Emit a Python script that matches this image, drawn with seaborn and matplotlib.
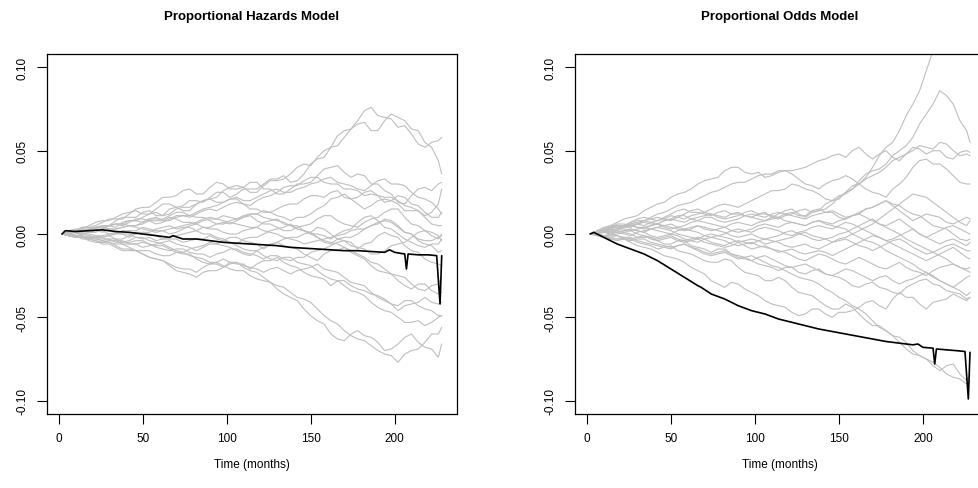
import numpy as np
import pandas as pd
import matplotlib
matplotlib.use("Agg")
import matplotlib.pyplot as plt
import seaborn as sns

# time grids of the simulated paths (months)
t_paths = [2, 10, 18, 26, 34, 42, 50, 58, 66, 74, 82, 90, 98, 106, 114, 122,
           130, 138, 146, 154, 162, 170, 178, 186, 194, 202, 210, 218, 226, 228]
t_mids = [6, 14, 22, 30, 38, 46, 54, 62, 70, 78, 86, 94, 102, 110, 118, 126,
          134, 142, 150, 158, 166, 174, 182, 190, 198, 206, 214, 222]

# simulated processes, proportional hazards (x 1000)
hazard_paths = [
    [0, 3, 5, 8, 10, 13, 12, 15, 18, 17, 20, 22, 25, 24, 27, 30, 33, 31, 36, 45, 52, 62, 68, 76, 70, 64, 60, 52, 56, 58],
    [0, 2, 4, 7, 9, 12, 16, 19, 22, 26, 24, 28, 30, 27, 25, 29, 32, 36, 42, 46, 52, 58, 66, 62, 68, 70, 63, 55, 44, 36],
    [0, -1, 2, 5, 8, 10, 13, 11, 15, 14, 18, 21, 26, 29, 31, 27, 24, 27, 30, 35, 40, 37, 36, 30, 26, 19, 23, 28, 30, 31],
    [0, 1, 3, 5, 4, 8, 10, 13, 12, 16, 18, 21, 19, 21, 17, 22, 25, 29, 32, 34, 30, 27, 26, 24, 19, 18, 14, 11, 18, 27],
    [0, 2, 1, 3, 6, 7, 9, 6, 9, 11, 12, 15, 16, 19, 15, 13, 15, 18, 21, 23, 25, 22, 18, 17, 21, 23, 18, 13, 10, 13],
    [0, 1, 3, 1, 3, 5, 6, 8, 10, 7, 6, 9, 11, 9, 12, 14, 11, 8, 10, 15, 21, 24, 22, 26, 22, 20, 16, 10, 5, 5],
    [0, -1, 1, 2, 0, -2, 1, 3, 5, 4, 2, 4, 7, 8, 11, 6, 4, 2, 5, 9, 11, 6, 4, 9, 13, 15, 6, 2, -3, 0],
    [0, 1, -1, -2, 0, 2, 4, 2, 0, 3, 6, 3, 1, 0, 3, 7, 9, 5, 2, 0, -3, 2, 7, 11, 4, 0, -5, -8, -6, -3],
    [0, -2, -3, -1, 1, 0, -3, -4, -2, 0, 2, 0, -3, -6, -2, 0, 3, 6, 2, -2, -6, -2, 0, 5, 9, 5, 0, -6, -11, -10],
    [0, -1, -3, -5, -4, -6, -8, -6, -4, -7, -10, -6, -4, -2, -5, -9, -5, -2, 0, 4, 0, -4, -9, -5, 1, -2, -10, -15, -18, -19],
    [0, -2, -1, -3, -5, -4, -2, -5, -8, -11, -8, -5, -7, -10, -13, -8, -5, -8, -12, -16, -10, -8, -13, -19, -23, -28, -33, -30, -36, -35],
    [0, -1, -3, -6, -8, -10, -12, -15, -18, -21, -23, -18, -15, -18, -21, -16, -14, -19, -23, -26, -31, -28, -33, -36, -39, -43, -40, -45, -49, -49],
    [0, -2, -4, -5, -7, -9, -12, -15, -19, -23, -26, -22, -20, -17, -22, -26, -31, -35, -39, -45, -52, -58, -63, -67, -72, -77, -70, -65, -60, -56],
    [0, -1, -2, -4, -6, -8, -10, -12, -13, -11, -14, -17, -19, -22, -25, -28, -33, -38, -45, -52, -60, -64, -58, -62, -70, -66, -60, -68, -74, -66],
    [0, 1, 0, -2, -3, -1, 1, -1, -3, -5, -3, -1, -4, -7, -10, -13, -16, -14, -18, -22, -27, -31, -35, -41, -46, -50, -53, -55, -50, -49],
    [0, 0, 2, 4, 3, 5, 7, 9, 11, 13, 10, 8, 6, 9, 12, 10, 8, 5, 2, -2, -5, -8, -12, -17, -21, -25, -30, -34, -30, -26],
    [0, 1, 3, 4, 6, 5, 3, 1, 3, 5, 7, 10, 8, 6, 4, 2, 0, -3, -6, -4, -2, 0, 3, 5, 8, 4, 0, -4, -2, -1],
    [0, -1, -3, -2, -4, -6, -5, -8, -10, -9, -12, -14, -11, -9, -12, -15, -13, -16, -14, -10, -7, -4, -8, -12, -10, -6, -2, 2, -1, -4],
    [0, 2, 4, 3, 6, 8, 7, 10, 8, 11, 13, 16, 19, 22, 20, 24, 27, 25, 28, 31, 34, 30, 27, 29, 33, 30, 25, 21, 15, 12],
    [0, -1, -2, -4, -3, -5, -4, -7, -9, -12, -15, -18, -20, -17, -20, -23, -20, -24, -21, -18, -22, -26, -30, -35, -40, -46, -42, -38, -42, -41],
]
hazard_mids = [
    [2, 3, 7, 8, 12, 14, 12, 18, 16, 20, 19, 25, 22, 27, 27, 33, 35, 32, 42, 46, 59, 63, 74, 71, 69, 65, 54, 55],
    [0, 4, 5, 9, 9, 15, 16, 22, 23, 27, 24, 31, 27, 28, 25, 32, 33, 40, 41, 50, 53, 63, 67, 62, 72, 68, 62, 52],
    [1, -1, 4, 5, 10, 10, 14, 11, 16, 14, 20, 22, 28, 28, 31, 27, 24, 30, 31, 39, 41, 34, 35, 30, 24, 18, 27, 26],
    [0, 3, 3, 5, 7, 8, 12, 11, 15, 16, 20, 19, 21, 18, 20, 23, 28, 29, 34, 31, 30, 27, 23, 23, 20, 14, 14, 13],
    [1, 2, 1, 5, 5, 9, 8, 7, 11, 10, 14, 14, 18, 18, 15, 13, 17, 18, 23, 22, 26, 21, 15, 20, 20, 22, 17, 10],
    [1, 1, 3, 3, 4, 5, 8, 8, 9, 7, 8, 9, 10, 11, 12, 13, 10, 10, 12, 17, 22, 21, 25, 23, 22, 17, 14, 6],
    [0, 0, 2, 0, 0, 0, 1, 4, 3, 4, 4, 6, 6, 10, 8, 6, 2, 4, 6, 11, 8, 5, 7, 10, 15, 10, 5, -1],
    [1, 0, -2, -1, 2, 2, 3, 2, 1, 5, 4, 3, 0, 2, 4, 8, 6, 5, 0, -1, 0, 3, 10, 8, 3, -3, -7, -6],
    [-1, -2, -1, 0, 0, -2, -2, -3, -1, 1, 0, -2, -5, -3, -2, 2, 4, 3, 0, -5, -3, -2, 3, 6, 8, 1, -4, -7],
    [-1, -1, -4, -4, -6, -6, -7, -5, -6, -8, -8, -6, -2, -4, -6, -6, -3, -2, 1, 3, -3, -5, -6, -1, -1, -7, -11, -17],
    [-1, -2, -3, -3, -5, -2, -4, -6, -10, -9, -7, -6, -8, -12, -10, -7, -7, -9, -14, -12, -10, -11, -15, -22, -24, -31, -30, -34],
    [0, -3, -4, -6, -10, -10, -14, -16, -20, -21, -20, -17, -17, -18, -18, -16, -17, -20, -25, -27, -28, -31, -34, -37, -42, -40, -43, -46],
    [-1, -2, -5, -5, -9, -10, -14, -16, -22, -24, -23, -22, -17, -20, -23, -29, -32, -38, -41, -49, -54, -61, -64, -70, -73, -72, -69, -60],
    [-1, -2, -2, -5, -6, -10, -10, -13, -11, -13, -15, -17, -21, -22, -27, -29, -36, -40, -49, -54, -63, -60, -61, -65, -69, -62, -65, -69],
    [1, 0, -1, -1, -3, 1, 0, -3, -3, -4, -3, -3, -5, -9, -10, -15, -14, -17, -19, -25, -28, -34, -37, -44, -47, -53, -52, -53],
    [-1, 1, 4, 3, 4, 5, 9, 9, 13, 11, 10, 6, 8, 10, 12, 9, 7, 3, 1, -4, -6, -10, -14, -18, -24, -26, -33, -31],
    [1, 2, 4, 5, 6, 4, 2, 2, 4, 6, 9, 9, 7, 5, 4, 1, -2, -4, -5, -3, -1, 2, 3, 7, 7, 1, -3, -4],
    [0, -2, -2, -4, -4, -6, -6, -9, -9, -11, -12, -12, -9, -11, -13, -13, -15, -14, -11, -9, -5, -7, -9, -12, -7, -5, 1, 1],
    [1, 4, 3, 5, 6, 8, 9, 8, 10, 11, 15, 17, 21, 20, 22, 26, 25, 27, 30, 33, 31, 29, 26, 32, 30, 29, 22, 19],
    [0, -2, -3, -3, -5, -4, -6, -7, -11, -12, -17, -18, -18, -19, -21, -21, -22, -22, -20, -21, -23, -29, -31, -38, -42, -43, -41, -41],
]

# simulated processes, proportional odds (x 1000)
odds_paths = [
    [0, 2, 5, 7, 10, 8, 12, 15, 13, 11, 14, 12, 10, 13, 9, 12, 15, 14, 20, 25, 30, 40, 52, 62, 78, 98, 120, 135, 150, 150],
    [0, 3, 6, 5, 8, 10, 8, 12, 15, 12, 10, 13, 10, 8, 12, 15, 10, 14, 18, 25, 32, 38, 42, 50, 58, 72, 86, 78, 62, 55],
    [0, 4, 7, 10, 14, 18, 22, 25, 30, 33, 38, 40, 36, 34, 37, 38, 40, 44, 47, 46, 52, 45, 50, 44, 50, 52, 55, 50, 48, 47],
    [0, 3, 5, 7, 8, 12, 15, 18, 21, 25, 28, 31, 33, 36, 38, 36, 30, 27, 32, 35, 30, 25, 22, 30, 40, 45, 42, 35, 30, 30],
    [0, 2, 4, 6, 5, 8, 11, 9, 12, 15, 18, 16, 20, 24, 26, 30, 27, 24, 20, 24, 30, 35, 40, 46, 52, 48, 50, 45, 50, 49],
    [0, 2, 5, 4, 7, 6, 9, 11, 8, 10, 7, 9, 12, 10, 13, 11, 9, 12, 14, 10, 13, 16, 20, 14, 8, 12, 10, 6, 10, 9],
    [0, 3, 2, 5, 4, 6, 3, 5, 8, 6, 4, 7, 5, 8, 10, 7, 5, 8, 6, 9, 12, 8, 5, 9, 3, -2, 2, 5, 1, 0],
    [0, 1, 3, 2, 4, 2, 0, 3, 1, -2, 0, 3, 1, 4, 2, -1, 2, 5, 3, 7, 4, 0, -4, -1, 3, -2, -6, -3, -7, -5],
    [0, 2, 1, -1, 2, 4, 2, -1, -3, 0, -2, -5, -3, -6, -4, -2, 1, -2, -5, -3, -7, -10, -6, -3, -8, -12, -9, -6, -10, -10],
    [0, -1, 1, 3, 1, -2, 0, -3, -5, -2, -4, -7, -5, -8, -11, -9, -12, -10, -13, -9, -5, -1, -4, -8, -12, -16, -12, -8, -14, -15],
    [0, 1, -1, -3, -1, -4, -2, -5, -3, -6, -8, -5, -9, -7, -10, -13, -16, -12, -15, -18, -14, -18, -21, -17, -22, -25, -20, -18, -21, -20],
    [0, -2, -1, -4, -3, -6, -8, -6, -9, -12, -10, -14, -16, -13, -17, -20, -18, -22, -25, -21, -24, -28, -25, -30, -27, -23, -28, -32, -26, -25],
    [0, -2, -4, -3, -6, -9, -7, -11, -14, -17, -15, -20, -24, -28, -26, -32, -36, -40, -45, -42, -48, -55, -58, -62, -70, -75, -80, -86, -90, -88],
    [0, -1, -3, -5, -8, -11, -14, -17, -22, -28, -32, -30, -35, -40, -43, -47, -48, -45, -50, -47, -44, -40, -45, -35, -38, -45, -40, -36, -40, -38],
    [0, 1, 2, 0, -2, -4, -6, -4, -8, -11, -9, -13, -16, -19, -22, -20, -24, -21, -25, -28, -32, -29, -33, -36, -30, -27, -31, -35, -39, -38],
    [0, 2, 4, 6, 8, 6, 9, 7, 10, 12, 9, 11, 14, 12, 10, 13, 11, 15, 13, 9, 12, 16, 20, 17, 12, 8, 4, 0, -4, -3],
    [0, 1, 3, 5, 3, 6, 4, 2, 5, 3, 1, -2, 0, -3, -1, 2, -1, -4, -2, 1, 5, 9, 4, 0, -5, -9, -13, -18, -22, -23],
    [0, -1, 0, 2, -1, -3, -1, -4, -2, -5, -7, -4, -6, -3, -5, -8, -6, -9, -5, -2, 2, 6, 12, 18, 24, 22, 16, 10, 5, 8],
    [0, 2, 1, 3, 1, 4, 6, 3, 5, 2, 4, 1, 3, 6, 4, 7, 5, 8, 5, 3, -2, -5, -10, -14, -18, -23, -28, -32, -37, -35],
    [0, -1, -3, -2, -5, -7, -9, -6, -10, -13, -11, -15, -13, -17, -20, -24, -27, -30, -35, -40, -45, -52, -58, -65, -72, -75, -82, -78, -88, -85],
]
odds_mids = [
    [1, 4, 5, 9, 9, 10, 14, 13, 12, 13, 12, 11, 12, 10, 11, 14, 13, 18, 21, 29, 34, 47, 55, 71, 86, 110, 126, 143],
    [2, 4, 6, 6, 9, 9, 10, 14, 13, 11, 12, 11, 9, 10, 14, 12, 13, 15, 22, 27, 36, 39, 47, 53, 66, 78, 83, 68],
    [2, 5, 9, 11, 16, 19, 24, 27, 32, 34, 40, 37, 37, 35, 38, 39, 42, 45, 48, 50, 48, 48, 46, 48, 53, 51, 54, 47],
    [1, 5, 5, 8, 10, 13, 17, 19, 23, 26, 30, 31, 35, 36, 38, 33, 29, 30, 33, 33, 27, 24, 27, 34, 44, 42, 39, 31],
    [1, 4, 4, 6, 7, 9, 10, 11, 13, 17, 17, 18, 22, 26, 27, 29, 26, 21, 23, 27, 33, 37, 44, 48, 51, 50, 46, 49],
    [1, 4, 4, 6, 6, 8, 11, 9, 10, 8, 8, 11, 11, 12, 12, 10, 11, 13, 12, 11, 15, 18, 17, 11, 10, 11, 7, 8],
    [1, 3, 4, 4, 5, 4, 4, 7, 7, 5, 6, 6, 7, 9, 8, 6, 7, 7, 8, 11, 10, 6, 7, 6, 0, 0, 4, 3],
    [1, 2, 3, 3, 3, 1, 2, 2, -1, -1, 2, 2, 3, 3, 0, 1, 4, 4, 5, 6, 2, -2, -3, 1, 0, -4, -4, -5],
    [1, 1, 0, 1, 3, 3, 0, -2, -1, -1, -3, -4, -4, -5, -3, 0, -1, -3, -4, -5, -8, -8, -4, -5, -10, -11, -7, -8],
    [0, 0, 2, 2, -1, -1, -1, -4, -3, -3, -6, -6, -7, -9, -10, -11, -11, -11, -11, -7, -3, -2, -6, -10, -14, -14, -10, -11],
    [1, 0, -2, -2, -3, -3, -4, -4, -5, -7, -7, -7, -8, -9, -11, -15, -14, -13, -17, -16, -16, -20, -19, -20, -23, -22, -19, -20],
    [-1, -2, -3, -3, -5, -7, -7, -8, -11, -11, -12, -15, -14, -15, -19, -19, -20, -24, -23, -22, -26, -26, -28, -28, -25, -26, -30, -29],
    [-1, -3, -3, -5, -7, -8, -10, -12, -16, -17, -16, -23, -25, -28, -28, -35, -37, -43, -45, -44, -52, -55, -61, -65, -73, -77, -84, -87],
    [0, -3, -3, -7, -9, -13, -15, -20, -24, -30, -29, -33, -37, -42, -44, -49, -45, -48, -47, -46, -41, -43, -39, -38, -42, -41, -39, -38],
    [1, 1, 1, -2, -2, -6, -4, -7, -9, -9, -12, -14, -18, -20, -20, -23, -22, -24, -26, -31, -30, -32, -35, -32, -28, -30, -34, -36],
    [1, 3, 5, 7, 7, 8, 8, 9, 11, 10, 10, 13, 12, 11, 12, 11, 14, 13, 10, 11, 15, 18, 18, 14, 11, 5, 3, -3],
    [0, 2, 4, 4, 5, 5, 3, 3, 4, 2, -1, -1, -2, -2, 1, 0, -3, -3, 0, 3, 7, 6, 2, -3, -7, -11, -15, -20],
    [0, -1, 1, 0, -2, -2, -3, -3, -3, -6, -5, -5, -4, -4, -7, -7, -8, -7, -3, 0, 4, 9, 15, 21, 23, 19, 13, 7],
    [1, 2, 2, 2, 3, 5, 4, 4, 3, 3, 2, 2, 5, 5, 6, 6, 7, 6, 4, 0, -4, -7, -12, -16, -21, -25, -30, -34],
    [0, -2, -2, -4, -6, -8, -7, -8, -12, -12, -13, -14, -15, -19, -22, -26, -28, -33, -38, -43, -48, -56, -61, -69, -73, -79, -79, -84],
]

# observed score processes (x 1000)
t_obs = [2, 4, 10, 18, 26, 34, 42, 50, 58, 66, 68, 74, 82, 90, 98, 106, 114, 122,
         130, 138, 146, 154, 162, 170, 178, 186, 194, 197, 200, 206, 207, 208,
         214, 220, 225, 227, 228]
hazard_obs = [0, 2, 1.5, 2, 2.5, 1.5, 1, 0, -1, -2, -1, -3, -3, -4, -5, -5.5, -6, -6.5,
              -7, -8, -8.5, -9, -9.5, -10, -10, -10.5, -11, -9.5, -11, -12, -21, -12,
              -12.5, -12.5, -13, -42, -13]
odds_obs = [0, 1, -2, -6, -9, -12, -16, -21, -26, -31, -32, -36, -39, -43, -46, -48, -51, -53,
            -55, -57, -58.5, -60, -61.5, -63, -64.5, -65.5, -66.5, -66, -68, -68.5, -78, -69,
            -69.5, -70, -70.5, -99, -71]

titles = ["Proportional Hazards Model", "Proportional Odds Model"]


def long_frame(paths, mids):
    rows = []
    for k, (p, m) in enumerate(zip(paths, mids)):
        for t, v in list(zip(t_paths, p)) + list(zip(t_mids, m)):
            rows.append({"time": t, "value": v / 1000, "path": k})
    return pd.DataFrame(rows).sort_values(["path", "time"])


sns.set_style("white")
plt.rcParams["font.family"] = ["Liberation Sans", "DejaVu Sans"]
plt.rcParams.update({"text.color": "black", "axes.labelcolor": "black",
                     "xtick.color": "black", "ytick.color": "black"})

fig = plt.figure(figsize=(9.79, 4.89), dpi=100)
W, H = 979, 489
boxes = [(46.7, 457.0), (575.0, 985.3)]
top, bottom = 55, 415

panels = [(hazard_paths, hazard_mids, hazard_obs), (odds_paths, odds_mids, odds_obs)]
for i, (paths, mids, obs) in enumerate(panels):
    x0, x1 = boxes[i]
    ax = fig.add_axes([x0 / W, (H - bottom) / H, (x1 - x0) / W, (bottom - top) / H])
    sns.lineplot(data=long_frame(paths, mids), x="time", y="value", units="path",
                 estimator=None, color="#BEBEBE", lw=0.8, ax=ax, legend=False)
    obs_df = pd.DataFrame({"time": t_obs, "value": np.array(obs) / 1000})
    sns.lineplot(data=obs_df, x="time", y="value", color="black", lw=1.2, ax=ax)

    ax.set_xlim(-7.1, 237.1)
    ax.set_ylim(-0.108, 0.108)
    ax.set_xticks([0, 50, 100, 150, 200])
    ax.set_yticks([-0.10, -0.05, 0.00, 0.05, 0.10])
    ax.set_yticklabels(["-0.10", "-0.05", "0.00", "0.05", "0.10"], rotation=90, va="center")
    ax.tick_params(axis="both", direction="out", length=7, width=0.8, labelsize=8.5,
                   pad=6, color="black", labelcolor="black", left=True, bottom=True)
    ax.set_xlabel("")
    ax.set_ylabel("")
    for s in ax.spines.values():
        s.set_color("black")
        s.set_linewidth(0.9)

    cx = (x0 + x1) / 2 / W
    fig.text(cx, 1 - 17 / H, titles[i], ha="center", va="center",
             fontsize=9.5, fontweight="bold", color="black")
    fig.text(cx, 1 - 465 / H, "Time (months)", ha="center", va="center",
             fontsize=8.5, color="black")

fig.savefig("out.png", dpi=100)
